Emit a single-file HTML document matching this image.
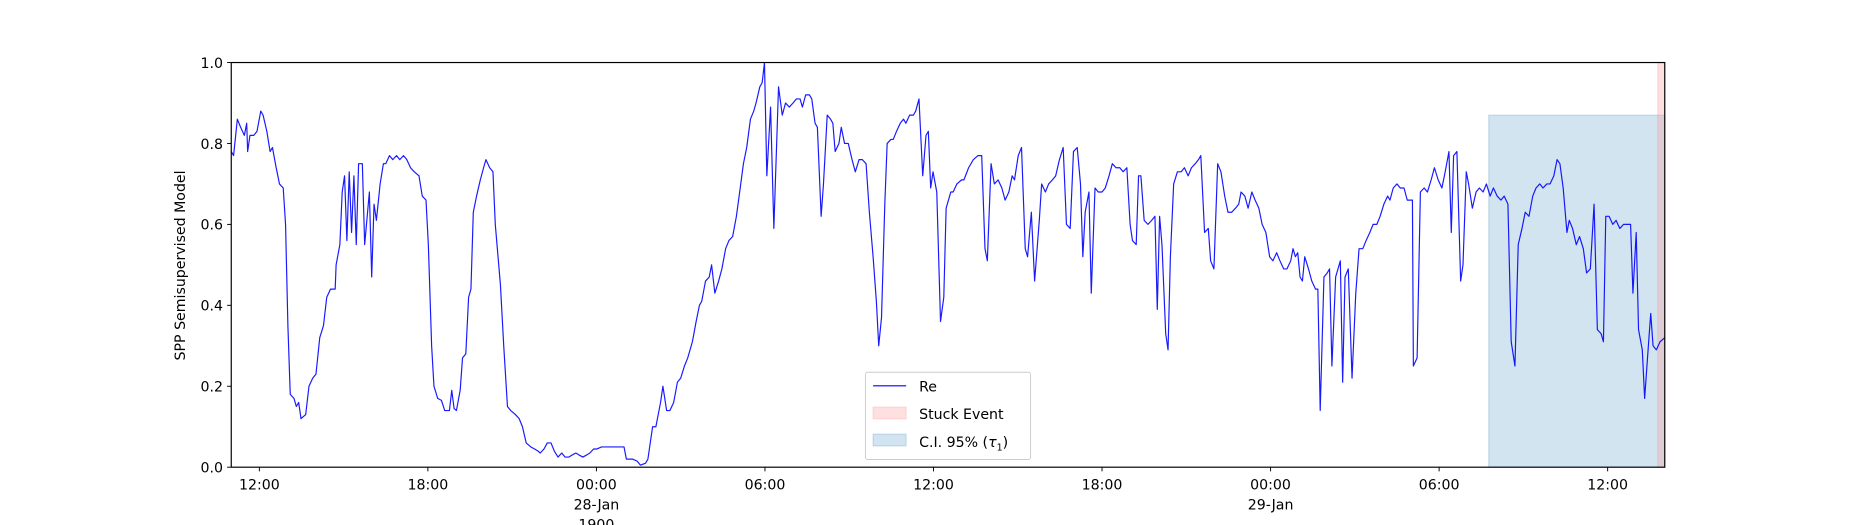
<!DOCTYPE html>
<html><head><meta charset="utf-8"><style>
html,body{margin:0;padding:0;background:#fff;}
svg{display:block;font-family:"DejaVu Sans","Liberation Sans",sans-serif;}
</style></head><body>
<svg id="chart" width="1850" height="525" viewBox="0 0 1568 445" preserveAspectRatio="none" xmlns="http://www.w3.org/2000/svg">
<g id="plot"></g>
</svg>
<script>
// minutes since 27-Jan 11:00
const times=[0,5,13,20,28,33,35,40,48,55,63,68,76,83,88,96,103,111,116,121,126,134,139,144,149,159,166,174,181,189,197,204,212,222,224,232,237,242,247,252,257,262,267,272,280,285,295,300,305,310,318,325,330,338,345,353,360,368,375,383,391,401,408,416,421,428,433,441,449,456,466,471,476,481,489,494,501,507,512,517,524,532,539,544,552,559,564,575,582,590,597,607,615,622,630,640,648,655,660,668,675,683,690,698,706,713,721,728,736,743,751,759,766,774,781,791,804,816,829,839,844,857,867,874,885,890,900,907,917,922,930,937,945,953,960,968,975,985,993,1000,1005,1013,1021,1026,1033,1041,1048,1056,1063,1071,1079,1086,1094,1101,1109,1116,1121,1129,1134,1139,1144,1152,1159,1169,1177,1184,1192,1200,1207,1215,1220,1227,1235,1240,1247,1252,1260,1265,1273,1280,1285,1290,1298,1303,1310,1318,1326,1333,1341,1348,1356,1363,1371,1378,1383,1389,1396,1401,1409,1414,1421,1429,1436,1441,1449,1457,1462,1469,1477,1484,1489,1494,1499,1507,1512,1515,1522,1527,1537,1542,1550,1560,1565,1575,1585,1595,1603,1610,1615,1623,1630,1638,1646,1653,1661,1668,1673,1681,1688,1696,1701,1709,1716,1726,1731,1739,1746,1754,1761,1769,1777,1784,1792,1799,1807,1814,1819,1824,1832,1837,1845,1852,1860,1867,1875,1882,1890,1898,1905,1913,1920,1925,1933,1938,1943,1950,1958,1966,1973,1978,1983,1988,1996,2001,2006,2013,2021,2029,2036,2044,2051,2059,2066,2071,2079,2087,2092,2099,2107,2114,2122,2129,2137,2145,2152,2157,2165,2172,2180,2187,2195,2202,2210,2218,2225,2233,2240,2248,2255,2263,2268,2273,2278,2283,2288,2293,2301,2308,2316,2321,2326,2334,2341,2346,2351,2359,2364,2369,2374,2379,2386,2394,2402,2409,2417,2424,2432,2439,2447,2454,2462,2470,2475,2482,2490,2497,2505,2512,2517,2523,2525,2533,2540,2548,2555,2563,2570,2578,2586,2593,2601,2606,2611,2618,2626,2631,2638,2643,2651,2659,2666,2674,2681,2689,2696,2704,2712,2719,2727,2734,2742,2749,2757,2764,2772,2780,2787,2795,2802,2810,2817,2825,2832,2838,2845,2853,2858,2865,2873,2880,2888,2895,2903,2911,2918,2926,2931,2936,2943,2951,2958,2966,2974,2981,2989,2994,3001,3006,3014,3019,3027,3032,3037,3044,3052,3062];
const values=[0.78,0.77,0.86,0.84,0.82,0.85,0.78,0.82,0.82,0.83,0.88,0.87,0.83,0.78,0.79,0.74,0.70,0.69,0.60,0.35,0.18,0.17,0.15,0.16,0.12,0.13,0.20,0.22,0.23,0.32,0.35,0.42,0.44,0.44,0.50,0.55,0.68,0.72,0.56,0.73,0.58,0.72,0.55,0.75,0.75,0.55,0.68,0.47,0.65,0.61,0.70,0.75,0.75,0.77,0.76,0.77,0.76,0.77,0.76,0.74,0.73,0.72,0.67,0.66,0.55,0.30,0.20,0.17,0.165,0.14,0.14,0.19,0.145,0.14,0.19,0.27,0.28,0.42,0.44,0.63,0.67,0.71,0.74,0.76,0.74,0.73,0.60,0.45,0.30,0.15,0.14,0.13,0.12,0.10,0.06,0.05,0.045,0.04,0.035,0.045,0.06,0.06,0.04,0.025,0.035,0.025,0.025,0.03,0.035,0.03,0.025,0.03,0.035,0.045,0.045,0.05,0.05,0.05,0.05,0.05,0.02,0.02,0.015,0.005,0.01,0.02,0.10,0.10,0.16,0.20,0.14,0.14,0.16,0.21,0.22,0.25,0.27,0.31,0.36,0.40,0.41,0.46,0.47,0.50,0.43,0.46,0.49,0.54,0.56,0.57,0.62,0.68,0.75,0.79,0.86,0.88,0.90,0.94,0.95,1.00,0.72,0.89,0.59,0.94,0.87,0.90,0.89,0.90,0.91,0.91,0.89,0.92,0.92,0.91,0.85,0.84,0.62,0.70,0.87,0.86,0.85,0.78,0.80,0.84,0.80,0.80,0.76,0.73,0.76,0.76,0.75,0.63,0.52,0.41,0.30,0.37,0.65,0.80,0.81,0.81,0.83,0.85,0.86,0.85,0.87,0.87,0.88,0.91,0.72,0.82,0.83,0.69,0.73,0.68,0.48,0.36,0.42,0.64,0.68,0.68,0.70,0.71,0.71,0.74,0.76,0.77,0.77,0.54,0.51,0.75,0.70,0.71,0.69,0.66,0.68,0.72,0.71,0.77,0.79,0.54,0.52,0.63,0.46,0.61,0.70,0.68,0.70,0.71,0.72,0.76,0.79,0.60,0.59,0.78,0.79,0.70,0.52,0.63,0.68,0.43,0.69,0.68,0.68,0.69,0.72,0.75,0.74,0.74,0.73,0.74,0.60,0.56,0.55,0.72,0.72,0.61,0.60,0.61,0.62,0.39,0.62,0.55,0.33,0.29,0.52,0.70,0.73,0.73,0.74,0.72,0.74,0.75,0.76,0.77,0.58,0.59,0.51,0.49,0.75,0.73,0.67,0.63,0.63,0.64,0.65,0.68,0.67,0.64,0.68,0.66,0.64,0.60,0.58,0.52,0.51,0.53,0.51,0.49,0.49,0.51,0.54,0.52,0.53,0.47,0.46,0.52,0.49,0.46,0.44,0.44,0.14,0.47,0.48,0.49,0.25,0.47,0.49,0.51,0.21,0.47,0.49,0.22,0.43,0.54,0.54,0.56,0.58,0.60,0.60,0.62,0.65,0.67,0.66,0.69,0.70,0.69,0.69,0.66,0.66,0.66,0.25,0.27,0.68,0.69,0.68,0.71,0.74,0.71,0.69,0.73,0.78,0.58,0.77,0.78,0.46,0.50,0.73,0.70,0.64,0.68,0.69,0.68,0.70,0.67,0.69,0.67,0.66,0.67,0.65,0.31,0.25,0.55,0.59,0.63,0.62,0.67,0.69,0.70,0.69,0.70,0.70,0.72,0.76,0.75,0.69,0.58,0.61,0.59,0.55,0.57,0.54,0.48,0.49,0.65,0.34,0.33,0.31,0.62,0.62,0.60,0.61,0.59,0.60,0.60,0.60,0.43,0.58,0.34,0.29,0.17,0.30,0.38,0.30,0.29,0.31,0.32];
const xTickMinutes=[60,420,780,1140,1500,1860,2220,2580,2940];
const xTickLabels=["12:00","18:00","00:00","06:00","12:00","18:00","00:00","06:00","12:00"];
const xTickSub={"2":"28-Jan","6":"29-Jan"};
const yTicks=[0.0,0.2,0.4,0.6,0.8,1.0];
const yTickLabels=["0.0","0.2","0.4","0.6","0.8","1.0"];
const ciRange=[2686,3062];
const ciTop=0.87;
const stuckRange=[3047,3062];
const domainMin=[0,3062];

const NS="http://www.w3.org/2000/svg";
const L=196,R=1411,T=53,B=396;
const xs=m=>L+(m-domainMin[0])/(domainMin[1]-domainMin[0])*(R-L);
const ys=v=>B-v*(B-T);
const plot=document.getElementById('plot');
function mk(tag,attrs,parent){const e=document.createElementNS(NS,tag);for(const k in attrs)e.setAttribute(k,attrs[k]);(parent||plot).appendChild(e);return e;}

// CI region
let ci=mk('rect',{x:xs(ciRange[0]),y:ys(ciTop),width:xs(ciRange[1])-xs(ciRange[0]),height:ys(0)-ys(ciTop),fill:'#1f77b4','fill-opacity':0.2,stroke:'#1f77b4','stroke-opacity':0.2});


let st=mk('rect',{x:xs(stuckRange[0]),y:T,width:xs(stuckRange[1])-xs(stuckRange[0]),height:B-T,fill:'#ff9999','fill-opacity':0.3,stroke:'#ff9999','stroke-opacity':0.3});



// line
let d='';times.forEach((t,i)=>{d+=(i?'L':'M')+xs(t).toFixed(2)+','+ys(values[i]).toFixed(2);});
let ln=mk('path',{d:d,fill:'none',stroke:'#0000ff','stroke-width':1,'stroke-linejoin':'round','stroke-opacity':0.9});



// frame
let fr=mk('rect',{x:L,y:T,width:R-L,height:B-T,fill:'none',stroke:'#000','stroke-width':1});



// y ticks
yTicks.forEach((v,i)=>{
  const y=ys(v);
  let tk=mk('line',{x1:L-3.5,x2:L,y1:y,y2:y,stroke:'#000','stroke-width':0.8});
  
  
  let tx=mk('text',{x:L-7,y:y+4.5,'text-anchor':'end','font-size':12,fill:'#000'});
  tx.textContent=yTickLabels[i];
  
  
});
// x ticks
xTickMinutes.forEach((m,i)=>{
  const x=xs(m);
  let tk=mk('line',{x1:x,x2:x,y1:B,y2:B+3.5,stroke:'#000','stroke-width':0.8});
  
  
  let tx=mk('text',{x:x,y:B+19,'text-anchor':'middle','font-size':12,fill:'#000'});
  tx.textContent=xTickLabels[i];
  
  
  if(xTickSub[i]){
    let s=mk('text',{x:x,y:B+36,'text-anchor':'middle','font-size':12,fill:'#000'});
    s.textContent=xTickSub[i];
    
    
    if(i==2){let yr=mk('text',{x:x,y:B+53,'text-anchor':'middle','font-size':12,fill:'#000'});
      yr.textContent='1900';
      
      }
  }
});
// y title
let yt=mk('text',{x:0,y:0,transform:'translate(157,225) rotate(-90)','text-anchor':'middle','font-size':12,fill:'#000'});
yt.textContent='SPP Semisupervised Model';



// legend
const lg=mk('g',{});


mk('rect',{x:733.5,y:315.5,width:140,height:74,rx:2,fill:'#fff','fill-opacity':0.8,stroke:'#ccc','stroke-width':0.8},lg);
let l1=mk('line',{x1:740,x2:768,y1:327,y2:327,stroke:'#0000ff','stroke-width':1},lg);


let t1=mk('text',{x:779,y:332,'font-size':12,fill:'#000'},lg);t1.textContent='Re';


let p2=mk('rect',{x:740,y:345,width:28,height:10,fill:'#ff9999','fill-opacity':0.3,stroke:'#ff9999','stroke-opacity':0.3},lg);


let t2=mk('text',{x:779,y:355,'font-size':12,fill:'#000'},lg);t2.textContent='Stuck Event';


let p3=mk('rect',{x:740,y:368,width:28,height:10,fill:'#1f77b4','fill-opacity':0.2,stroke:'#1f77b4','stroke-opacity':0.2},lg);


let t3=mk('text',{x:779,y:379,'font-size':12,fill:'#000'},lg);
t3.innerHTML='C.I. 95% (<tspan font-style="italic">τ</tspan><tspan font-size="8" dy="3">1</tspan><tspan dy="-3">)</tspan>';


</script>
</body></html>
